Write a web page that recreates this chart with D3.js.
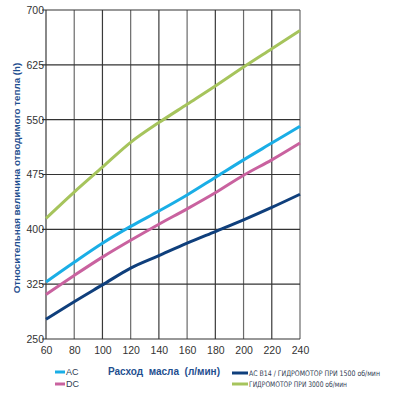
<!DOCTYPE html>
<html>
<head>
<meta charset="utf-8">
<script src="https://cdn.jsdelivr.net/npm/d3@7"></script>
<style>
  body { margin: 0; background: #fff; }
  svg { font-family: "Liberation Sans", Arial, sans-serif; }
</style>
</head>
<body>
<div id="chart"></div>
<script>
var flow = [60, 80, 100, 120, 140, 160, 180, 200, 220, 240];
var acValues = [328, 355, 381, 404, 425, 447, 471, 495, 518, 541];
var dcValues = [311, 337, 362, 385, 407, 428, 450, 474, 495, 518];
var acB14Values = [277, 301, 324, 347, 364, 381, 397, 413, 430, 448];
var motor3000Values = [415, 451, 485, 519, 546, 571, 596, 622, 647, 672];
var yTicks = [250, 325, 400, 475, 550, 625, 700];
var xTicks = [60, 80, 100, 120, 140, 160, 180, 200, 220, 240];

var series = [
  { name: "AC", values: acValues, color: "#1aaee6" },
  { name: "DC", values: dcValues, color: "#c9629f" },
  { name: "AC B14 / ГИДРОМОТОР ПРИ 1500 об/мин", values: acB14Values, color: "#0f3f7c" },
  { name: "ГИДРОМОТОР ПРИ 3000 об/мин", values: motor3000Values, color: "#a6c45c" }
];

var width = 400,
    height = 398;
var svg = d3.select("#chart")
    .append("svg")
    .attr("width", width)
    .attr("height", height);

var x = d3.scaleLinear().domain([60, 240]).range([46, 300]);
var y = d3.scaleLinear().domain([250, 700]).range([339, 10]);

// grid
svg.append("g")
    .selectAll("line")
    .data(xTicks)
    .enter().append("line")
    .attr("x1", function(d) { return x(d); })
    .attr("x2", function(d) { return x(d); })
    .attr("y1", y(250))
    .attr("y2", y(700))
    .attr("stroke", function(d, i) { return i % 2 === 0 ? "#3a3a3a" : "#6a6a6a"; })
    .attr("stroke-width", 1.2);
svg.append("g")
    .selectAll("line")
    .data(yTicks)
    .enter().append("line")
    .attr("x1", x(60) - 4)
    .attr("x2", x(240))
    .attr("y1", function(d) { return y(d); })
    .attr("y2", function(d) { return y(d); })
    .attr("stroke", "#333")
    .attr("stroke-width", 1.2);

// axes labels
var yAxis = d3.axisLeft(y).tickValues(yTicks).tickSize(0).tickPadding(2);
svg.append("g")
    .attr("transform", "translate(" + x(60) + ",0)")
    .call(yAxis)
    .call(function(g) { g.select(".domain").remove(); })
    .selectAll("text")
    .attr("font-size", 10.5)
    .attr("fill", "#333")
    .attr("font-family", "Liberation Sans, Arial, sans-serif");

var xAxis = d3.axisBottom(x).tickValues(xTicks).tickSize(0).tickPadding(8);
svg.append("g")
    .attr("transform", "translate(0," + y(250) + ")")
    .call(xAxis)
    .call(function(g) { g.select(".domain").remove(); })
    .selectAll("text")
    .attr("font-size", 10.5)
    .attr("fill", "#333")
    .attr("font-family", "Liberation Sans, Arial, sans-serif");

// lines
var line = d3.line()
    .x(function(d, i) { return x(flow[i]); })
    .y(function(d) { return y(d); })
    .curve(d3.curveMonotoneX);

svg.append("g")
    .selectAll("path")
    .data(series)
    .enter().append("path")
    .attr("d", function(d) { return line(d.values); })
    .attr("fill", "none")
    .attr("stroke", function(d) { return d.color; })
    .attr("stroke-width", 3);

// titles
svg.append("text")
    .attr("transform", "translate(20,178) rotate(-90)")
    .attr("text-anchor", "middle")
    .attr("font-size", 9.8)
    .attr("font-weight", "bold")
    .attr("fill", "#1f4f8f")
    .text("Относительная величина отводимого тепла (h)");

svg.append("text")
    .attr("x", 108)
    .attr("y", 375)
    .attr("font-size", 10)
    .attr("font-weight", "bold")
    .attr("fill", "#1f4f8f")
    .attr("xml:space", "preserve")
    .style("white-space", "pre")
    .text("Расход  масла  (л/мин)");

// legend
var legendItems = [
  { s: series[0], lx: 55, ly: 372, len: 10, size: 9, family: "Liberation Sans, Arial, sans-serif" },
  { s: series[1], lx: 55, ly: 384, len: 10, size: 9, family: "Liberation Sans, Arial, sans-serif" },
  { s: series[2], lx: 232, ly: 373, len: 16, size: 7.6, family: "DejaVu Sans Condensed, Liberation Sans Narrow, sans-serif" },
  { s: series[3], lx: 232, ly: 384, len: 16, size: 7.6, family: "DejaVu Sans Condensed, Liberation Sans Narrow, sans-serif" }
];
var legend = svg.append("g")
    .selectAll("g")
    .data(legendItems)
    .enter().append("g");
legend.append("line")
    .attr("x1", function(d) { return d.lx; })
    .attr("x2", function(d) { return d.lx + d.len; })
    .attr("y1", function(d) { return d.ly; })
    .attr("y2", function(d) { return d.ly; })
    .attr("stroke", function(d) { return d.s.color; })
    .attr("stroke-width", 3);
legend.append("text")
    .attr("x", function(d) { return d.lx + d.len + 1; })
    .attr("y", function(d) { return d.ly + 3.3; })
    .attr("font-size", function(d) { return d.size; })
    .attr("font-family", function(d) { return d.family; })
    .attr("fill", "#2f3b52")
    .attr("textLength", function(d, i) { return i === 2 ? 131 : (i === 3 ? 98 : null); })
    .attr("lengthAdjust", "spacingAndGlyphs")
    .text(function(d) { return d.s.name; });
</script>
</body>
</html>
